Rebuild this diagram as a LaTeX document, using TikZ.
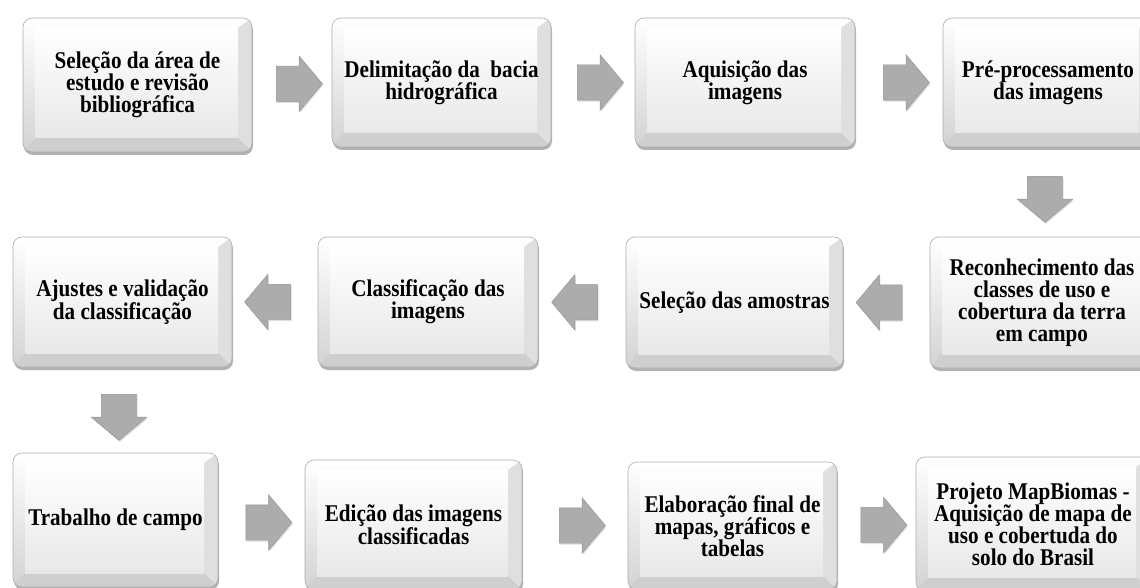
\documentclass[tikz,border=0pt]{standalone}
\usepackage{fontspec}
\setmainfont{Liberation Serif}[FakeStretch=0.88]
\usetikzlibrary{shapes.arrows,shadows,calc}

\begin{document}
\begin{tikzpicture}[x=1pt,y=-1pt]
			\tikzstyle{etapa}=[draw=gray!65, line width=0.6pt, rounded corners=9pt, top color=white, bottom color=gray!35, inner sep=0pt, align=center, font=\fontsize{24}{22}\selectfont\bfseries, drop shadow={shadow xshift=1pt, shadow yshift=-3pt, opacity=.3, fill=black},
				path picture={
					\fill[gray!25, sharp corners] (path picture bounding box.north east) -- (path picture bounding box.south east) -- ([shift={(-14pt,14pt)}]path picture bounding box.south east) -- ([shift={(-14pt,-10pt)}]path picture bounding box.north east) -- cycle;
					\fill[gray!38, sharp corners] (path picture bounding box.south west) -- (path picture bounding box.south east) -- ([shift={(-14pt,14pt)}]path picture bounding box.south east) -- ([shift={(12pt,14pt)}]path picture bounding box.south west) -- cycle;
					\shade[top color=white, bottom color=gray!18, sharp corners] ([shift={(12pt,-10pt)}]path picture bounding box.north west) rectangle ([shift={(-14pt,14pt)}]path picture bounding box.south east);
				}]
			\tikzstyle{seta}=[single arrow, draw=gray!85, fill=gray!65, minimum height=46pt, inner xsep=0pt, inner ysep=17.5pt, single arrow head extend=10pt, single arrow tip angle=100, drop shadow={shadow xshift=1pt, shadow yshift=-1.5pt, opacity=.25}]
			\tikzstyle{seta baixo}=[seta, shape border rotate=270, inner xsep=17.5pt, inner ysep=0pt]
			\useasboundingbox (0,0) rectangle (1140,588);
			% primeira linha
			\node[etapa, minimum width=229pt, minimum height=134pt] (e_1) at (137.5,85) {Seleção da área de\\estudo e revisão\\bibliográfica};
			\node[etapa, minimum width=219pt, minimum height=129pt] (e_2) at (441.5,82.5) {Delimitação da~~bacia\\hidrográfica};
			\node[etapa, minimum width=220pt, minimum height=129pt] (e_3) at (745,82.5) {Aquisição das\\imagens};
			\node[etapa, minimum width=210pt, minimum height=129pt] (e_4) at (1048,82.5) {Pré-processamento\\das imagens};
			% segunda linha
			\node[etapa, minimum width=224pt, minimum height=131pt] (e_5) at (1042,302.5) {Reconhecimento das\\classes de uso e\\cobertura da terra\\em campo};
			\node[etapa, minimum width=217pt, minimum height=131pt] (e_6) at (734.5,302.5) {Seleção das amostras};
			\node[etapa, minimum width=220pt, minimum height=130pt] (e_7) at (428,302) {Classificação das\\imagens};
			\node[etapa, minimum width=219pt, minimum height=130pt] (e_8) at (122.5,302) {Ajustes e validação\\da classificação};
			% terceira linha
			\node[etapa, minimum width=205pt, minimum height=134pt] (e_9) at (115.5,520) {Trabalho de campo};
			\node[etapa, minimum width=217pt, minimum height=130pt] (e_10) at (413.5,525) {Edição das imagens\\classificadas};
			\node[etapa, minimum width=209pt, minimum height=128pt] (e_11) at (732.5,526) {Elaboração final de\\mapas, gráficos e\\tabelas};
			\node[etapa, minimum width=234pt, minimum height=134pt] (e_12) at (1033,524) {Projeto MapBiomas -\\Aquisição de mapa de\\uso e cobertuda do\\solo do Brasil};
			% setas
			\node[seta] (s_1) at ($(e_1.east)!.5!(e_2.west)$) {};
			\node[seta] (s_2) at ($(e_2.east)!.5!(e_3.west)$) {};
			\node[seta] (s_3) at ($(e_3.east)!.5!(e_4.west)$) {};
			\node[seta baixo] (s_4) at ($(e_4.south)!.5!(e_5.north)$) {};
			\node[seta, shape border rotate=180] (s_5) at ($(e_5.west)!.5!(e_6.east)$) {};
			\node[seta, shape border rotate=180] (s_6) at ($(e_6.west)!.5!(e_7.east)$) {};
			\node[seta, shape border rotate=180] (s_7) at ($(e_7.west)!.5!(e_8.east)$) {};
			\node[seta baixo] (s_8) at ($(e_8.south)!.5!(e_9.north)$) {};
			\node[seta] (s_9) at ($(e_9.east)!.5!(e_10.west)$) {};
			\node[seta] (s_10) at ($(e_10.east)!.5!(e_11.west)$) {};
			\node[seta] (s_11) at ($(e_11.east)!.5!(e_12.west)$) {};
		\end{tikzpicture}
\end{document}
